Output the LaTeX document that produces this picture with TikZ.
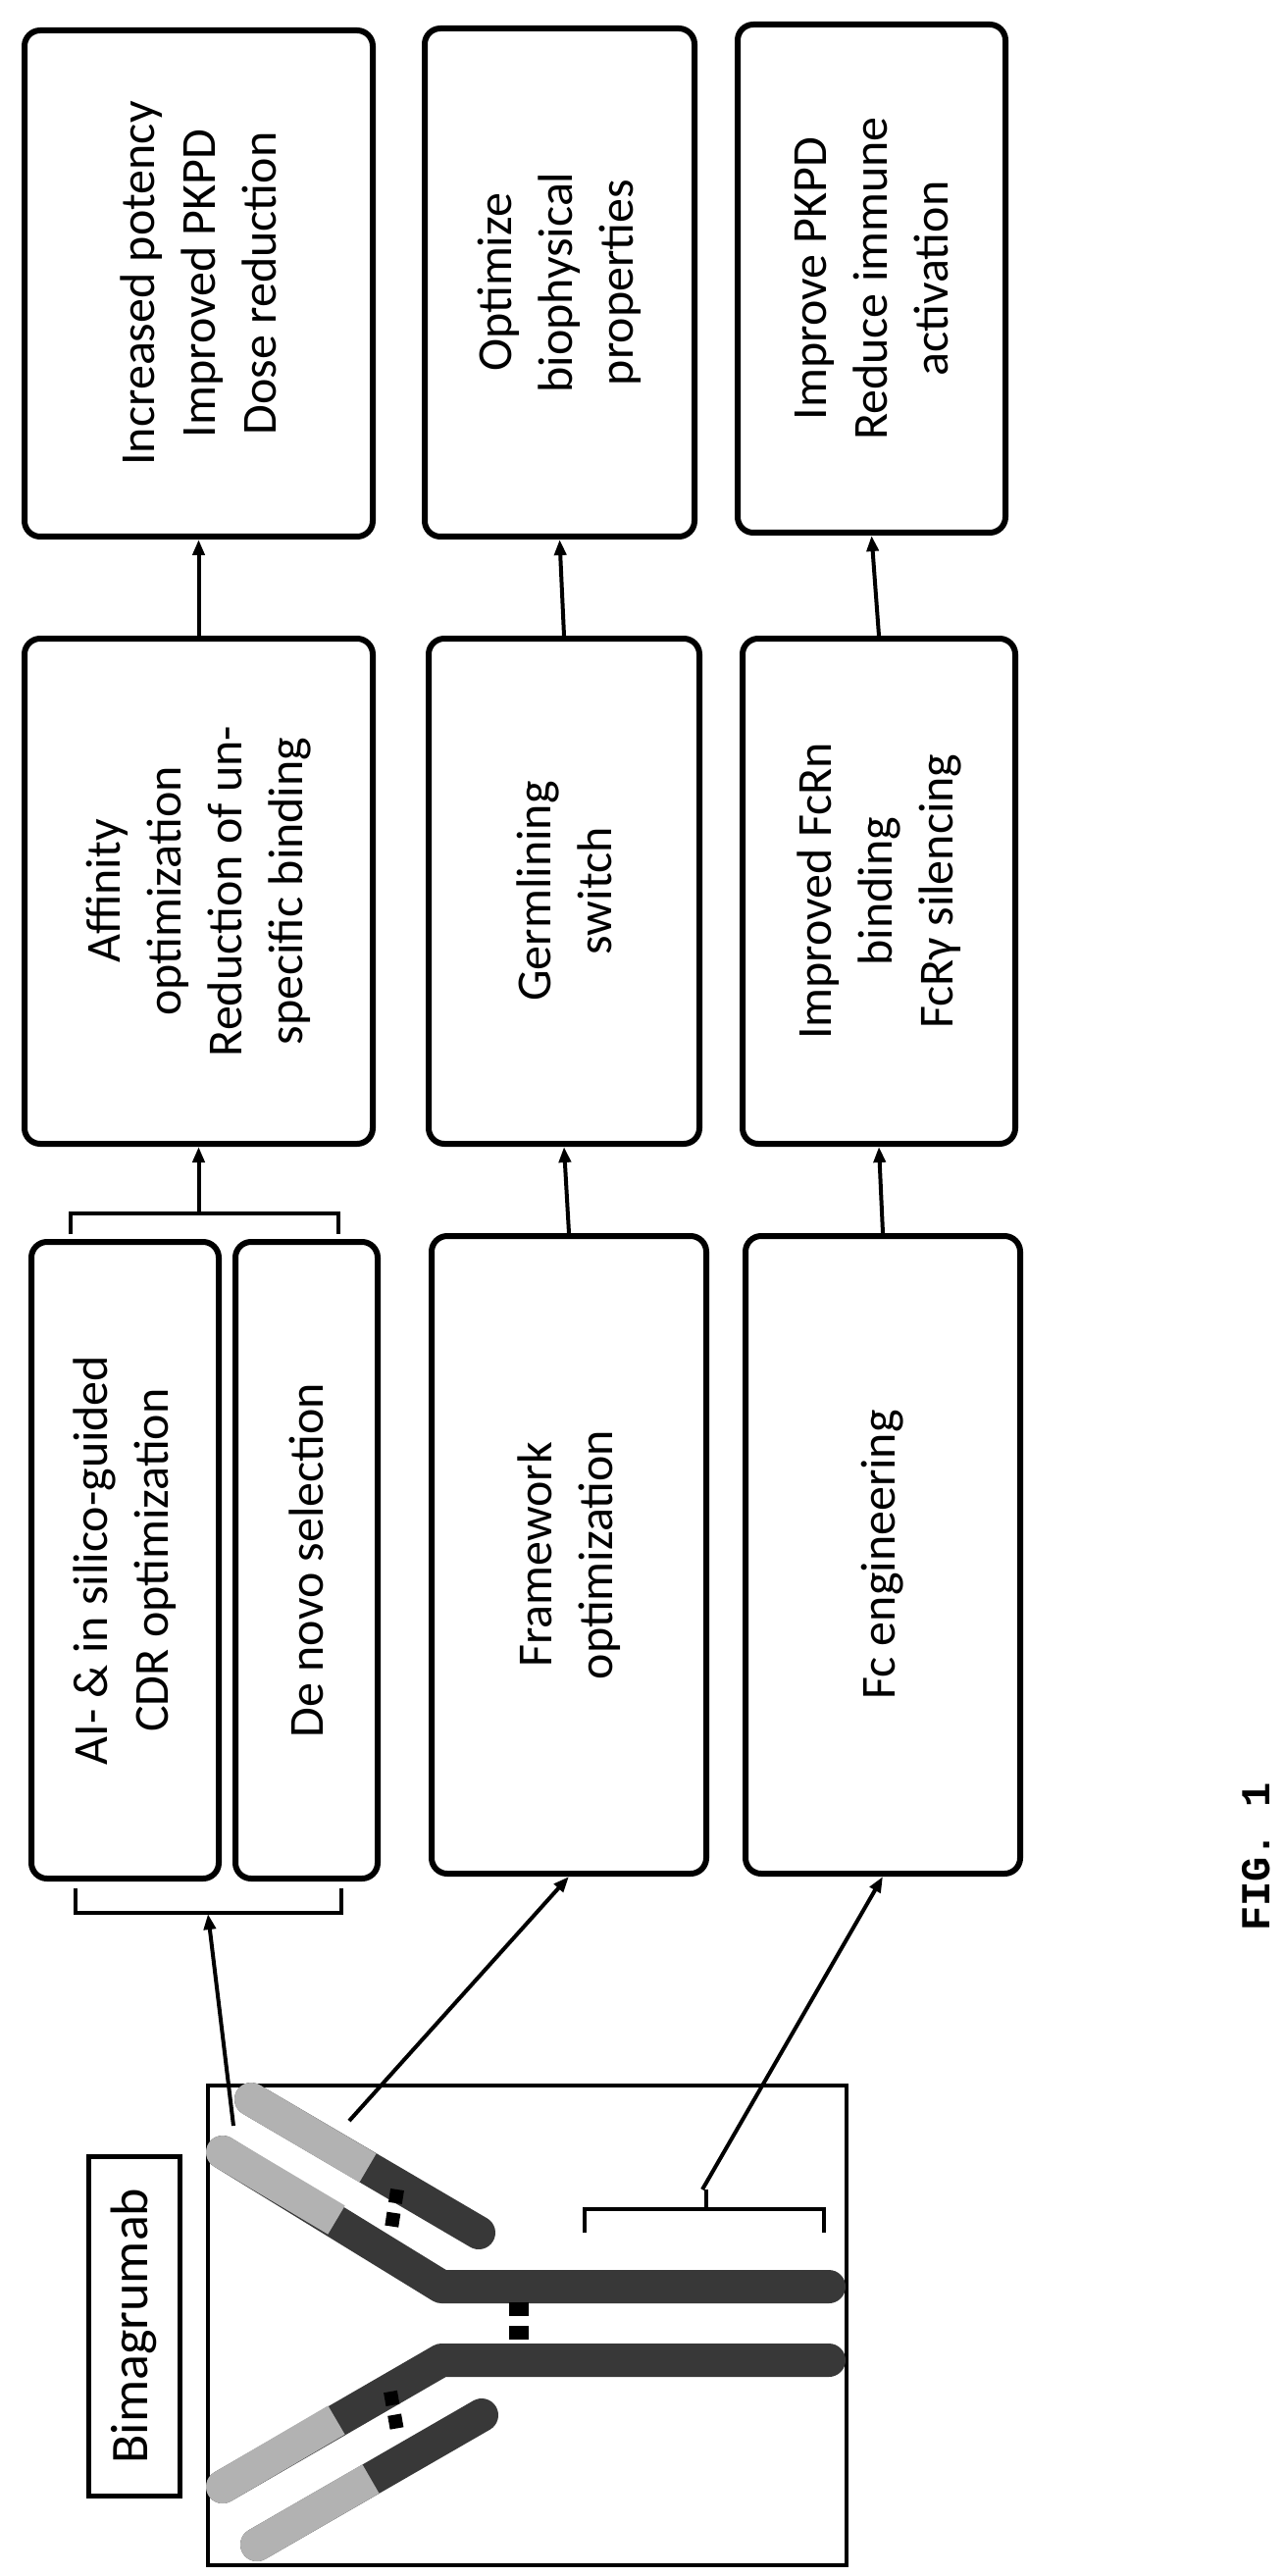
\documentclass[tikz,border=0pt]{standalone}
\usepackage{fontspec}
\setmainfont{Carlito}
\newfontfamily\figfont{Liberation Mono}
\usetikzlibrary{arrows.meta}
\begin{document}
\begin{tikzpicture}[x=0.5pt,y=-0.5pt,
  bx/.style={draw,line width=3pt,rounded corners=8pt,rotate=90,align=center,inner sep=0pt,
    font=\fontsize{25}{31}\selectfont},
  arr/.style={line width=2pt,-{Triangle[length=8pt,width=6pt]}},
  brk/.style={line width=2pt},
  dk/.style={line width=17pt,line cap=round,line join=round,color=black!78},
  lt/.style={line width=17pt,line cap=butt,color=black!30},
  ss/.style={line width=7pt,dash pattern=on 7pt off 5pt,color=black}]
\useasboundingbox[fill=white] (0,0) rectangle (1310,2626);
\newcommand\mybox[6]{\node[bx,minimum width={(#5-#3)*0.5pt},minimum height={(#4-#2)*0.5pt}] (#1) at ({(#2+#4)/2},{(#3+#5)/2}) {#6};}
\mybox{inc}{25}{31}{380}{547}{Increased potency\\Improved PKPD\\Dose reduction}
\mybox{opt}{433}{29}{708}{547}{Optimize\\biophysical\\properties}
\mybox{imp}{752}{25}{1025}{543}{Improve PKPD\\Reduce immune\\activation}
\mybox{aff}{25}{651}{380}{1166}{Affinity\\optimization\\Reduction of un-\\specific binding}
\mybox{ger}{437}{651}{713}{1166}{Germlining\\switch}
\mybox{fcr}{757}{651}{1035}{1166}{Improved FcRn\\binding\\FcR\char"03B3{} silencing}
\mybox{ai}{32}{1266}{223}{1915}{AI- \& in silico-guided\\CDR optimization}
\mybox{den}{240}{1266}{385}{1915}{De novo selection}
\mybox{fw}{440}{1260}{720}{1910}{Framework\\optimization}
\mybox{fc}{760}{1260}{1040}{1910}{Fc engineering}
\node[draw,line width=2.5pt,rotate=90,minimum width=173pt,minimum height=46.5pt,inner sep=0pt,
  font=\fontsize{27}{30}\selectfont] (bim) at (136.5,2371) {Bimagrumab};
\node[draw,line width=2pt,minimum width=325.5pt,minimum height=244.5pt,inner sep=0pt] (frame) at (537.5,2370.5) {};
\node[rotate=90,font=\figfont\bfseries\fontsize{21}{24}\selectfont] (fig) at (1281,1893) {FIG. 1};
% arrows between rows
\draw[arr] (aff.east) -- (inc.west);
\draw[arr] (ger.east) -- (opt.west);
\draw[arr] (fcr.east) -- (imp.west);
\draw[arr] (fw.east) -- (ger.west);
\draw[arr] (fc.east) -- (fcr.west);
% brackets
\draw[brk] (72,1258) -- (72,1237) -- (345,1237) -- (345,1258);
\coordinate (ub) at (202.5,1237);
\draw[arr] (ub) -- (aff.west);
\draw[brk] (77,1925) -- (77,1950) -- (348,1950) -- (348,1925);
\coordinate (lb) at (212,1951);
\coordinate (s1) at (238,2167);
\draw[arr] (s1) -- (lb);
\coordinate (s2) at (356,2162);
\draw[arr] (s2) -- (fw.west);
\draw[brk] (596,2276) -- (596,2252) -- (840,2252) -- (840,2276);
\draw[brk] (720,2252) -- (720,2232);
\coordinate (s3) at (716,2232);
\draw[arr] (s3) -- (fc.west);
% antibody
\draw[dk] (227,2194) -- (450,2331) -- (845,2331);
\draw[lt] (227,2194) -- (343,2263);
\fill[black!30] (227,2194) circle (17);
\draw[dk] (227,2535) -- (450,2406) -- (845,2406);
\draw[lt] (227,2535) -- (343,2467);
\fill[black!30] (227,2535) circle (17);
\draw[dk] (256,2140) -- (488,2276);
\draw[lt] (256,2140) -- (375,2210);
\fill[black!30] (256,2140) circle (17);
\draw[dk] (262,2594) -- (491,2462);
\draw[lt] (262,2594) -- (378,2527);
\fill[black!30] (262,2594) circle (17);
\draw[ss] (405,2232) -- (398,2278);
\draw[ss] (398,2438) -- (406,2484);
\draw[ss,line width=10pt] (529,2347) -- (529,2393);
\end{tikzpicture}
\end{document}
